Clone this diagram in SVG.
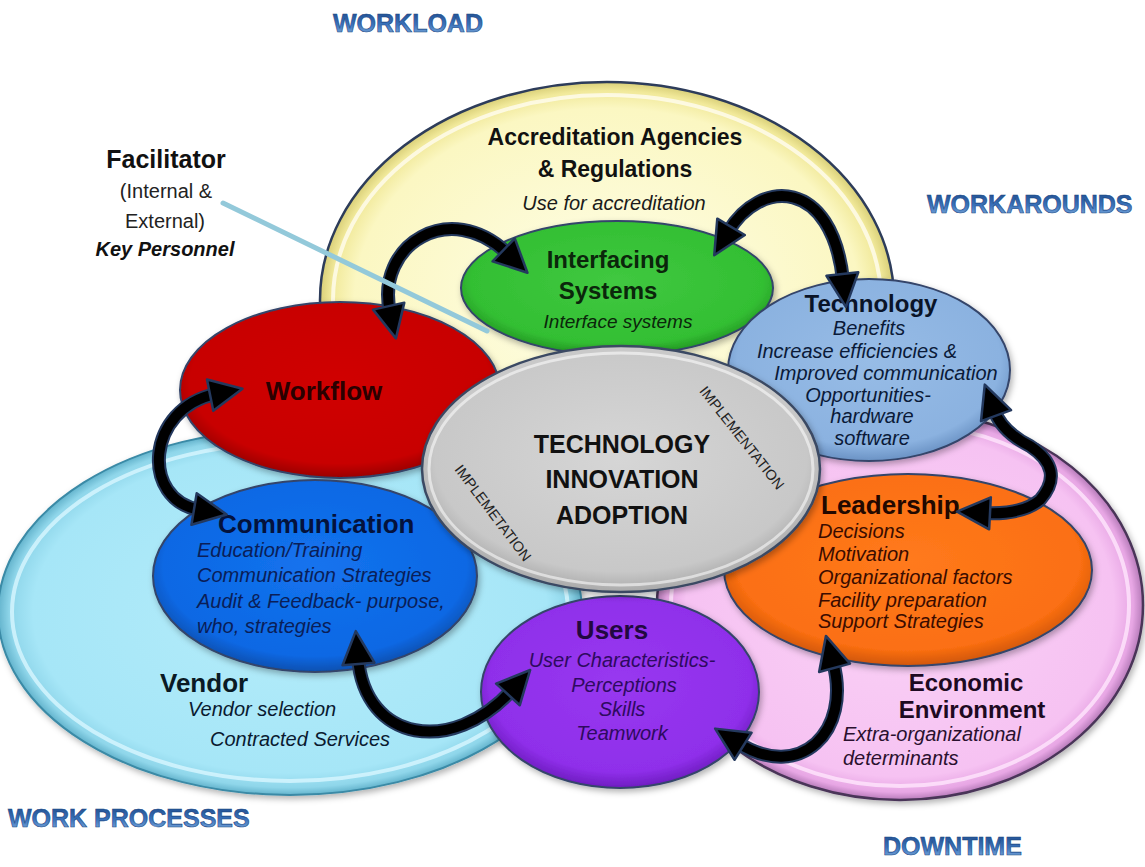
<svg xmlns="http://www.w3.org/2000/svg" width="1145" height="867" viewBox="0 0 1145 867">
<defs>
<style>
.t{font-family:"Liberation Sans",Arial,sans-serif}
.b{font-weight:bold}
.i{font-style:italic}
.m{text-anchor:middle}
.h{font-family:"Liberation Sans",Arial,sans-serif;font-weight:bold;font-size:25px;fill:url(#gHead);stroke:#1b4785;stroke-width:0.6}
.node{stroke:#34456a;stroke-width:2}
.rim{fill:none;stroke-width:4}
.aOut{fill:none;stroke:#24395e;stroke-width:14;stroke-linecap:round}
.aIn{fill:none;stroke:#000;stroke-width:10;stroke-linecap:round;marker-start:url(#ah);marker-end:url(#ah)}
</style>
<radialGradient id="gYellow" cx="50%" cy="50%" r="50%">
<stop offset="0" stop-color="#fefee8"/><stop offset="0.88" stop-color="#fbf7c2"/><stop offset="0.96" stop-color="#f1e99a"/><stop offset="1" stop-color="#d9cf78"/>
</radialGradient>
<radialGradient id="gCyan" cx="50%" cy="50%" r="50%">
<stop offset="0" stop-color="#b4ecfa"/><stop offset="0.88" stop-color="#a6e6f7"/><stop offset="0.96" stop-color="#8fd6ea"/><stop offset="1" stop-color="#63b3cc"/>
</radialGradient>
<radialGradient id="gPink" cx="50%" cy="50%" r="50%">
<stop offset="0" stop-color="#fad2f6"/><stop offset="0.88" stop-color="#f6c2f2"/><stop offset="0.96" stop-color="#e7a6e4"/><stop offset="1" stop-color="#b57ab8"/>
</radialGradient>
<radialGradient id="gGray" cx="50%" cy="45%" r="55%">
<stop offset="0" stop-color="#d6d6d6"/><stop offset="0.85" stop-color="#c8c8c8"/><stop offset="1" stop-color="#a9a9a9"/>
</radialGradient>
<radialGradient id="gGreen" cx="50%" cy="45%" r="55%">
<stop offset="0" stop-color="#40c840"/><stop offset="0.85" stop-color="#33bf33"/><stop offset="1" stop-color="#249a24"/>
</radialGradient>
<radialGradient id="gRed" cx="50%" cy="45%" r="55%">
<stop offset="0" stop-color="#d00000"/><stop offset="0.85" stop-color="#c80000"/><stop offset="1" stop-color="#9a0000"/>
</radialGradient>
<radialGradient id="gBlue" cx="50%" cy="45%" r="55%">
<stop offset="0" stop-color="#1473ee"/><stop offset="0.85" stop-color="#0c68e4"/><stop offset="1" stop-color="#0a50b0"/>
</radialGradient>
<radialGradient id="gTech" cx="50%" cy="45%" r="55%">
<stop offset="0" stop-color="#97bce6"/><stop offset="0.85" stop-color="#8bb2e0"/><stop offset="1" stop-color="#6a92c4"/>
</radialGradient>
<radialGradient id="gOrange" cx="50%" cy="45%" r="55%">
<stop offset="0" stop-color="#ff7a1c"/><stop offset="0.85" stop-color="#fb6f12"/><stop offset="1" stop-color="#d0560a"/>
</radialGradient>
<radialGradient id="gPurple" cx="50%" cy="45%" r="55%">
<stop offset="0" stop-color="#9838f0"/><stop offset="0.85" stop-color="#8f2fea"/><stop offset="1" stop-color="#6e1cc0"/>
</radialGradient>
<linearGradient id="gHead" x1="0" y1="0" x2="0" y2="1">
<stop offset="0" stop-color="#1b4785"/><stop offset="0.55" stop-color="#3a72bb"/><stop offset="1" stop-color="#86b2e0"/>
</linearGradient>
<marker id="ah" markerUnits="userSpaceOnUse" markerWidth="38" markerHeight="38" viewBox="0 0 38 38" refX="8" refY="19" orient="auto-start-reverse">
<path d="M2,3 L35,19 L2,35 z" fill="#000" stroke="#24395e" stroke-width="2.5" stroke-linejoin="round"/>
</marker>
<filter id="sh" x="-10%" y="-10%" width="125%" height="130%">
<feDropShadow dx="2" dy="3" stdDeviation="3" flood-color="#000" flood-opacity="0.3"/>
</filter>
</defs>

<rect width="1145" height="867" fill="#ffffff"/>

<!-- outer regions -->
<g id="accreditation">
<ellipse cx="607" cy="300" rx="287" ry="218" fill="url(#gYellow)" stroke="#2d3c5a" stroke-width="2.5"/>
<ellipse cx="607" cy="300" rx="274" ry="205" class="rim" stroke="#fffdf0" stroke-opacity="0.8"/>
</g>
<g id="vendor">
<ellipse cx="290" cy="612" rx="292" ry="183" fill="url(#gCyan)" stroke="#3a8aa6" stroke-width="2" filter="url(#sh)"/>
<ellipse cx="290" cy="612" rx="278" ry="169" class="rim" stroke="#d8f6ff" stroke-opacity="0.8"/>
</g>
<g id="economic">
<ellipse cx="900" cy="605" rx="243" ry="195" fill="url(#gPink)" stroke="#4a3458" stroke-width="2.5" filter="url(#sh)"/>
<ellipse cx="900" cy="605" rx="229" ry="181" class="rim" stroke="#ffe6fc" stroke-opacity="0.8"/>
</g>

<!-- inner nodes -->
<g id="workflow">
<ellipse cx="340" cy="390" rx="160" ry="88" fill="url(#gRed)" class="node" filter="url(#sh)"/>
<text x="324" y="400" class="t b m" font-size="26" fill="#2a0000">Workflow</text>
</g>
<g id="interfacing">
<ellipse cx="617" cy="288" rx="156" ry="67" fill="url(#gGreen)" class="node" filter="url(#sh)"/>
<text x="608" y="268" class="t b m" font-size="24" fill="#0b260b">Interfacing</text>
<text x="608" y="299" class="t b m" font-size="24" fill="#0b260b">Systems</text>
<text x="618" y="328" class="t i m" font-size="19" fill="#0b260b">Interface systems</text>
</g>
<g id="technology">
<ellipse cx="869" cy="370" rx="141" ry="91" fill="url(#gTech)" class="node" filter="url(#sh)"/>
<text x="871" y="312" class="t b m" font-size="24" fill="#0a1428">Technology</text>
<text x="869" y="335" class="t i m" font-size="20" fill="#0a1a38">Benefits</text>
<text x="857" y="358" class="t i m" font-size="20" fill="#0a1a38">Increase efficiencies &amp;</text>
<text x="886" y="380" class="t i m" font-size="20" fill="#0a1a38">Improved communication</text>
<text x="868" y="402" class="t i m" font-size="20" fill="#0a1a38">Opportunities-</text>
<text x="872" y="423" class="t i m" font-size="20" fill="#0a1a38">hardware</text>
<text x="872" y="445" class="t i m" font-size="20" fill="#0a1a38">software</text>
</g>
<g id="communication">
<ellipse cx="315" cy="576" rx="162" ry="96" fill="url(#gBlue)" class="node" filter="url(#sh)"/>
<text x="218" y="533" class="t b" font-size="26" fill="#04123c">Communication</text>
<text x="197" y="557" class="t i" font-size="20" fill="#0a1e58">Education/Training</text>
<text x="197" y="582" class="t i" font-size="20" fill="#0a1e58">Communication Strategies</text>
<text x="197" y="608" class="t i" font-size="20" fill="#0a1e58">Audit &amp; Feedback- purpose,</text>
<text x="197" y="633" class="t i" font-size="20" fill="#0a1e58">who, strategies</text>
</g>
<g id="leadership">
<ellipse cx="908" cy="570" rx="184" ry="96" fill="url(#gOrange)" class="node" filter="url(#sh)"/>
<text x="821" y="514" class="t b" font-size="26" fill="#220800">Leadership</text>
<text x="818" y="538" class="t i" font-size="20" fill="#3a0c00">Decisions</text>
<text x="818" y="561" class="t i" font-size="20" fill="#3a0c00">Motivation</text>
<text x="818" y="584" class="t i" font-size="20" fill="#3a0c00">Organizational factors</text>
<text x="818" y="607" class="t i" font-size="20" fill="#3a0c00">Facility preparation</text>
<text x="818" y="628" class="t i" font-size="20" fill="#3a0c00">Support Strategies</text>
</g>
<g id="users">
<ellipse cx="620" cy="692" rx="139" ry="96" fill="url(#gPurple)" class="node" filter="url(#sh)"/>
<text x="612" y="639" class="t b m" font-size="26" fill="#220840">Users</text>
<text x="622" y="667" class="t i m" font-size="20" fill="#2e0a60">User Characteristics-</text>
<text x="624" y="692" class="t i m" font-size="20" fill="#2e0a60">Perceptions</text>
<text x="622" y="716" class="t i m" font-size="20" fill="#2e0a60">Skills</text>
<text x="622" y="740" class="t i m" font-size="20" fill="#2e0a60">Teamwork</text>
</g>
<g id="center">
<ellipse cx="621" cy="469" rx="199" ry="123" fill="url(#gGray)" stroke="#3b4a63" stroke-width="2.5" filter="url(#sh)"/>
<ellipse cx="621" cy="469" rx="192" ry="116" fill="none" stroke="#ffffff" stroke-opacity="0.55" stroke-width="3"/>
<text x="622" y="453" class="t b m" font-size="25" fill="#111">TECHNOLOGY</text>
<text x="622" y="488" class="t b m" font-size="25" fill="#111">INNOVATION</text>
<text x="622" y="524" class="t b m" font-size="25" fill="#111">ADOPTION</text>
<text transform="translate(738,441) rotate(51.6)" class="t m" font-size="14.5" fill="#222">IMPLEMENTATION</text>
<text transform="translate(489,516) rotate(53)" class="t m" font-size="14.5" fill="#222">IMPLEMETATION</text>
</g>

<!-- region labels -->
<g id="accreditation-label">
<text x="615" y="145" class="t b m" font-size="23" fill="#111">Accreditation Agencies</text>
<text x="615" y="177" class="t b m" font-size="23" fill="#111">&amp; Regulations</text>
<text x="614" y="210" class="t i m" font-size="20" fill="#1a1a1a">Use for accreditation</text>
</g>
<g id="vendor-label">
<text x="160" y="692" class="t b" font-size="26" fill="#0a1a24">Vendor</text>
<text x="188" y="716" class="t i" font-size="20" fill="#0a1a30">Vendor selection</text>
<text x="210" y="746" class="t i" font-size="20" fill="#0a1a30">Contracted Services</text>
</g>
<g id="economic-label">
<text x="966" y="691" class="t b m" font-size="24" fill="#1e0a22">Economic</text>
<text x="972" y="718" class="t b m" font-size="24" fill="#1e0a22">Environment</text>
<text x="843" y="741" class="t i" font-size="20" fill="#2a102e">Extra-organizational</text>
<text x="843" y="765" class="t i" font-size="20" fill="#2a102e">determinants</text>
</g>
<g id="facilitator">
<text x="166" y="168" class="t b m" font-size="25" fill="#111">Facilitator</text>
<text x="166" y="198" class="t m" font-size="20" fill="#222">(Internal &amp;</text>
<text x="165" y="228" class="t m" font-size="20" fill="#222">External)</text>
<text x="165" y="256" class="t b i m" font-size="20" fill="#111">Key Personnel</text>
</g>

<!-- connectors -->
<g id="connectors">
<path class="aOut" d="M390 312 C375 245 450 198 508 254"/>
<path class="aIn" d="M390 312 C375 245 450 198 508 254"/>
<path class="aOut" d="M728 232 C760 178 832 178 843 280"/>
<path class="aIn" d="M728 232 C760 178 832 178 843 280"/>
<path class="aOut" d="M994 410 Q1002 432 1030 446 Q1066 470 1040 500 Q1022 515 984 513"/>
<path class="aIn" d="M994 410 Q1002 432 1030 446 Q1066 470 1040 500 Q1022 515 984 513"/>
<path class="aOut" d="M833 662 C852 732 800 782 738 743"/>
<path class="aIn" d="M833 662 C852 732 800 782 738 743"/>
<path class="aOut" d="M358 658 C365 742 452 756 512 690"/>
<path class="aIn" d="M358 658 C365 742 452 756 512 690"/>
<path class="aOut" d="M216 394 C146 408 140 500 200 510"/>
<path class="aIn" d="M216 394 C146 408 140 500 200 510"/>
<line x1="223" y1="203" x2="487" y2="331" stroke="#93c9da" stroke-width="5" stroke-linecap="round"/>
</g>

<!-- corner headings -->
<g id="headings">
<text x="333" y="32" class="h">WORKLOAD</text>
<text x="927" y="213" class="h">WORKAROUNDS</text>
<text x="8" y="827" class="h">WORK PROCESSES</text>
<text x="883" y="855" class="h" font-size="26">DOWNTIME</text>
</g>
</svg>
